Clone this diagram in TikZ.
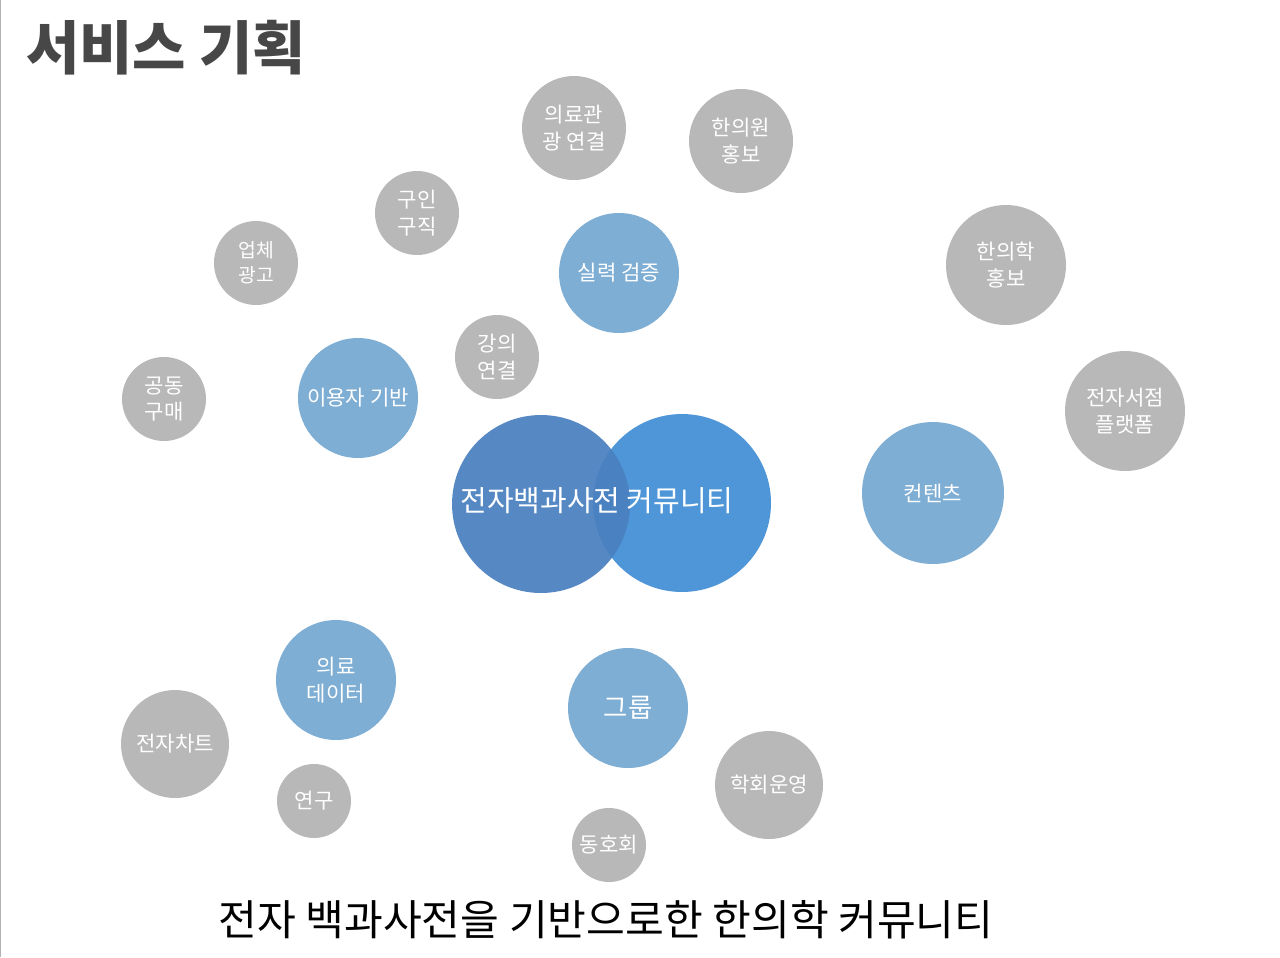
\documentclass[tikz,border=0pt]{standalone}
\usepackage{fontspec}
\newfontfamily\kr{Noto Sans CJK KR}
\usetikzlibrary{backgrounds}
\definecolor{gr}{HTML}{B8B8B8}
\definecolor{lb}{HTML}{7FAED4}
\definecolor{edge}{HTML}{E2E2E2}
\definecolor{bl}{HTML}{4A80C0}
\definecolor{br}{HTML}{4E96D8}
\tikzset{
 bub/.style={circle,inner sep=0pt,text=white,align=center,font=\kr\fontsize{12}{15}\selectfont},
 g/.style={bub,fill=gr},
 lbub/.style={bub,fill=lb},
 con/.style={edge,line width=3pt}
}
\begin{document}
\begin{tikzpicture}[x=0.02cm,y=-0.02cm]
\useasboundingbox (0,0) rectangle (1280,957);
\fill[white] (0,0) rectangle (1280,957);
\draw[gray!60,line width=0.6pt] (0.5,0) -- (0.5,957);
\node[anchor=west,font=\kr\bfseries\fontsize{33}{36}\selectfont,text=black!72] (title) at (20,48) {서비스 기획};
\node[font=\kr\fontsize{24}{28}\selectfont] (sub) at (606,920) {전자 백과사전을 기반으로한 한의학 커뮤니티};
\node[bub,fill=br,minimum size=178\pgflinewidth*0+3.56cm] (R) at (682,503) {};
\node[bub,fill=bl,fill opacity=0.93,minimum size=3.56cm] (L) at (541,504) {};
\node[bub,font=\kr\fontsize{16.5}{20}\selectfont] (ct) at (597,501) {전자백과사전 커뮤니티};
\node[lbub,minimum size=2.4cm] (sil) at (619,273) {실력 검증};
\node[lbub,minimum size=2.4cm] (use) at (358,398) {이용자 기반};
\node[lbub,minimum size=2.84cm] (con) at (933,493) {컨텐츠};
\node[lbub,minimum size=2.4cm] (med) at (336,680) {의료\\데이터};
\node[lbub,minimum size=2.4cm,font=\kr\fontsize{15}{18}\selectfont] (grp) at (628,708) {그룹};
\node[g,minimum size=2.08cm] (a1) at (574,128) {의료관\\광 연결};
\node[g,minimum size=2.08cm] (a2) at (741,141) {한의원\\홍보};
\node[g,minimum size=1.68cm] (a3) at (417,213) {구인\\구직};
\node[g,minimum size=1.68cm,font=\kr\fontsize{11}{14}\selectfont] (a4) at (256,263) {업체\\광고};
\node[g,minimum size=1.68cm] (a5) at (497,357) {강의\\연결};
\node[g,minimum size=1.68cm] (a6) at (164,399) {공동\\구매};
\node[g,minimum size=2.4cm] (a7) at (1006,265) {한의학\\홍보};
\node[g,minimum size=2.4cm] (a8) at (1125,411) {전자서점\\플랫폼};
\node[g,minimum size=2.16cm] (a9) at (175,744) {전자차트};
\node[g,minimum size=1.48cm] (a10) at (314,801) {연구};
\node[g,minimum size=1.48cm] (a11) at (609,845) {동호회};
\node[g,minimum size=2.16cm] (a12) at (769,785) {학회운영};
\begin{scope}[on background layer]
\draw[con] (R.center) -- (sil.center) (sil.center) -- (a1.center) (sil.center) -- (a2.center) (sil.center) -- (a3.center) (sil.center) -- (a5.center);
\draw[con] (L.center) -- (use.center) (use.center) -- (a3.center) (use.center) -- (a4.center) (use.center) -- (a6.center) (use.center) -- (a5.center);
\draw[con] (R.center) -- (con.center) (con.center) -- (a7.center) (con.center) -- (a8.center);
\draw[con] (L.center) -- (med.center) (med.center) -- (a9.center) (med.center) -- (a10.center);
\draw[con] (R.center) -- (grp.center) (grp.center) -- (a11.center) (grp.center) -- (a12.center);
\end{scope}
\end{tikzpicture}
\end{document}
